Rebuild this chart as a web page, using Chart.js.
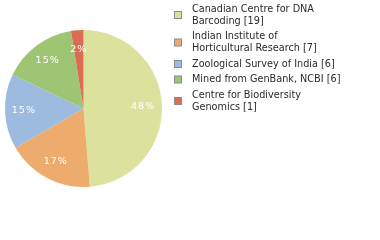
<!DOCTYPE html>
<html>
<head>
<meta charset="utf-8">
<script src="https://cdn.jsdelivr.net/npm/chart.js@4/dist/chart.umd.min.js"></script>
<style>
  html, body { margin: 0; padding: 0; background: #fff; }
  #wrap { width: 380px; height: 240px; position: relative; }
</style>
</head>
<body>
<div id="wrap"><canvas id="myChart"></canvas></div>
<script>
// '\n' marks where the legend text wraps
const categories = [
    'Canadian Centre for DNA\nBarcoding',
    'Indian Institute of\nHorticultural Research',
    'Zoological Survey of India',
    'Mined from GenBank, NCBI',
    'Centre for Biodiversity\nGenomics'
];
const counts = [19, 7, 6, 6, 1];
const colors = ['#dce29d', '#eeab6e', '#9dbadf', '#9dc574', '#dc6d55'];

const total = counts.reduce((a, b) => a + b, 0);

// percent labels inside the slices
const sliceLabels = {
    id: 'sliceLabels',
    afterDatasetsDraw(chart) {
        const ctx = chart.ctx;
        const meta = chart.getDatasetMeta(0);
        ctx.save();
        ctx.font = '9.5px "DejaVu Sans"';
        ctx.letterSpacing = '1px';
        ctx.fillStyle = '#fff';
        ctx.textAlign = 'center';
        ctx.textBaseline = 'middle';
        meta.data.forEach((arc, i) => {
            const mid = (arc.startAngle + arc.endAngle) / 2;
            const r = arc.outerRadius * 0.76;
            const pct = Math.floor(counts[i] / total * 100);
            ctx.fillText(pct + '%', arc.x + Math.cos(mid) * r, arc.y + Math.sin(mid) * r);
        });
        ctx.restore();
    }
};

// legend on the right
const sideLegend = {
    id: 'sideLegend',
    afterDraw(chart) {
        const ctx = chart.ctx;
        ctx.save();
        ctx.font = '9.7px "DejaVu Sans"';
        ctx.textBaseline = 'middle';
        let y = 9;
        categories.forEach((name, i) => {
            const lines = (name + ' [' + counts[i] + ']').split('\n');
            const boxY = y + (lines.length - 1) * 6;
            ctx.fillStyle = colors[i];
            ctx.fillRect(174.5, boxY - 3.5, 7, 7);
            ctx.strokeStyle = '#8a8a8a';
            ctx.lineWidth = 1;
            ctx.strokeRect(174.5, boxY - 3.5, 7, 7);
            ctx.fillStyle = '#2a2a2a';
            lines.forEach((l, k) => ctx.fillText(l, 192, y + k * 12));
            y += lines.length * 12 + 3.5;
        });
        ctx.restore();
    }
};

const chart = new Chart(document.getElementById('myChart'), {
    type: 'pie',
    data: {
        labels: categories,
        datasets: [{
            data: counts,
            backgroundColor: colors,
            borderWidth: 0
        }]
    },
    options: {
        responsive: true,
        maintainAspectRatio: false,
        animation: false,
        layout: { padding: { left: 5, top: 30, right: 218, bottom: 53 } },
        plugins: {
            legend: { display: false },
            tooltip: { enabled: false }
        }
    },
    plugins: [sliceLabels, sideLegend]
});
</script>
</body>
</html>
